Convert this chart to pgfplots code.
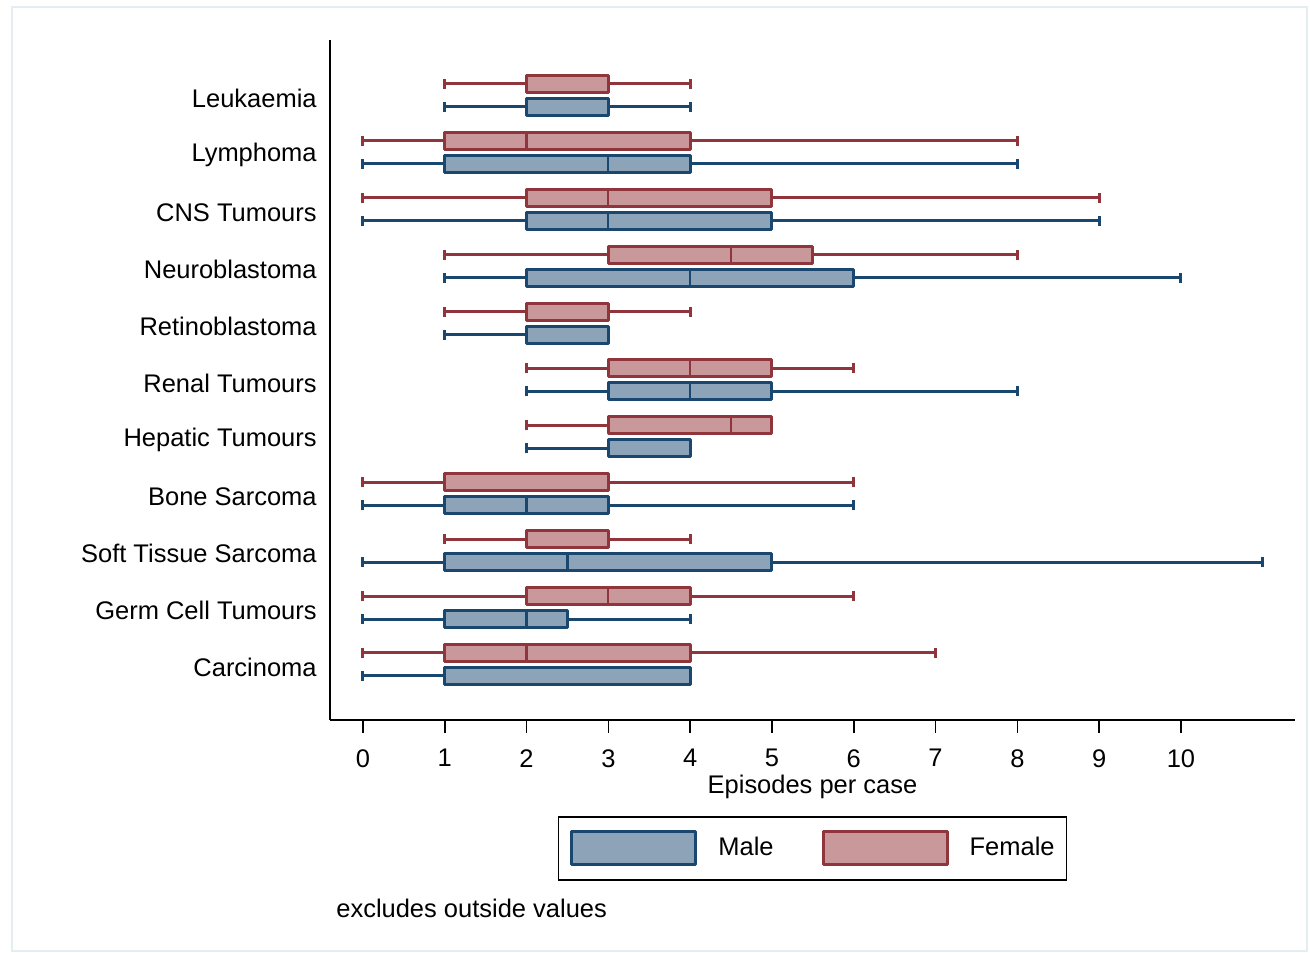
\documentclass[border=0pt]{standalone}
\usepackage{pgfplots}
\pgfplotsset{compat=1.18}
\usepgfplotslibrary{statistics}
\usepackage{fontspec}
\setmainfont{Liberation Sans}
\definecolor{navy}{RGB}{26,71,111}
\definecolor{maroon}{RGB}{144,53,59}
\definecolor{navyfill}{RGB}{141,163,184}
\definecolor{maroonfill}{RGB}{200,152,155}
\definecolor{framec}{RGB}{228,237,240}
\pgfplotsset{
  malebox/.style={draw=navy, fill=navyfill, line width=0.6mm, line join=round, solid, mark=none},
  femalebox/.style={draw=maroon, fill=maroonfill, line width=0.6mm, line join=round, solid, mark=none},
}
% #1 style, #2 position, #3 lower whisker, #4 lower quartile, #5 median, #6 upper quartile, #7 upper whisker
\newcommand{\bx}[7]{\addplot[forget plot, #1, boxplot prepared={draw position=#2, lower whisker=#3, lower quartile=#4, median=#5, upper quartile=#6, upper whisker=#7}] coordinates {};}
\begin{document}
\fontsize{14.5}{17}\selectfont
\begin{tikzpicture}
\path[use as bounding box] (0,0) rectangle (262mm,190.6mm);
\draw[framec, line width=0.4mm] (2.4mm,0.4mm) rectangle (261.4mm,189.2mm);
\begin{axis}[
  at={(66mm,46.6mm)}, anchor=south west,
  scale only axis, width=193mm, height=136mm,
  xmin=-0.403, xmax=11.394, ymin=-720, ymax=-40,
  axis x line*=bottom, axis y line*=left,
  axis line style={-, line width=0.35mm, black},
  xtick={0,1,2,3,4,5,6,7,8,9,10},
  tick align=outside, major tick length=2.6mm,
  xtick style={line width=0.3mm, black},
  ytick style={draw=none},
  ytick={-95.5,-152.4,-209.3,-266.2,-323.1,-380,-436.9,-493.8,-550.7,-607.6,-664.5},
  yticklabels={Leukaemia,Lymphoma,CNS Tumours,Neuroblastoma,Retinoblastoma,Renal Tumours,Hepatic Tumours,Bone Sarcoma,Soft Tissue Sarcoma,Germ Cell Tumours,Carcinoma},
  yticklabel style={inner sep=0pt, anchor=east, yshift=-0.6mm, font=\fontsize{14.5}{17}\selectfont},
  xticklabel style={inner sep=0pt, anchor=north, yshift=-3.2mm, font=\fontsize{14.5}{17}\selectfont},
  /pgf/number format/assume math mode=true,
  xlabel={Episodes per case},
  xlabel style={inner sep=0pt, anchor=north, at={(axis description cs:0.5,0)}, yshift=-11.0mm, font=\fontsize{14.5}{17}\selectfont},
  boxplot/draw direction=x,
  boxplot/box extend=17,
  boxplot/whisker extend=10,
  boxplot/every whisker/.style={line width=0.6mm},
  boxplot/every median/.style={line width=0.45mm},
  legend columns=2,
  legend image code/.code={\draw[#1, line width=0.6mm, line join=round] (0mm,-3.3mm) rectangle (24.8mm,3.3mm);},
  legend style={at={(axis description cs:0.5,-0.1412)}, anchor=north, draw=black, line width=0.3mm,
    inner xsep=2.4mm, inner ysep=2.7mm, font=\fontsize{14.5}{17}\selectfont,
    nodes={inner sep=0pt, anchor=west},
    /tikz/every odd column/.append style={column sep=4.2mm},
    /tikz/every even column/.append style={column sep=9.6mm}},
]
\addlegendimage{draw=navy, fill=navyfill}
\addlegendentry{Male}
\addlegendimage{draw=maroon, fill=maroonfill}
\addlegendentry{Female}
% Leukaemia
\bx{femalebox}{-84}{1}{2}{3}{3}{4}
\bx{malebox}{-107}{1}{2}{2}{3}{4}
% Lymphoma
\bx{femalebox}{-140.9}{0}{1}{2}{4}{8}
\bx{malebox}{-163.9}{0}{1}{3}{4}{8}
% CNS Tumours
\bx{femalebox}{-197.8}{0}{2}{3}{5}{9}
\bx{malebox}{-220.8}{0}{2}{3}{5}{9}
% Neuroblastoma
\bx{femalebox}{-254.7}{1}{3}{4.5}{5.5}{8}
\bx{malebox}{-277.7}{1}{2}{4}{6}{10}
% Retinoblastoma
\bx{femalebox}{-311.6}{1}{2}{3}{3}{4}
\bx{malebox}{-334.6}{1}{2}{2}{3}{3}
% Renal Tumours
\bx{femalebox}{-368.5}{2}{3}{4}{5}{6}
\bx{malebox}{-391.5}{2}{3}{4}{5}{8}
% Hepatic Tumours
\bx{femalebox}{-425.4}{2}{3}{4.5}{5}{5}
\bx{malebox}{-448.4}{2}{3}{4}{4}{4}
% Bone Sarcoma
\bx{femalebox}{-482.3}{0}{1}{1}{3}{6}
\bx{malebox}{-505.3}{0}{1}{2}{3}{6}
% Soft Tissue Sarcoma
\bx{femalebox}{-539.2}{1}{2}{3}{3}{4}
\bx{malebox}{-562.2}{0}{1}{2.5}{5}{11}
% Germ Cell Tumours
\bx{femalebox}{-596.1}{0}{2}{3}{4}{6}
\bx{malebox}{-619.1}{0}{1}{2}{2.5}{4}
% Carcinoma
\bx{femalebox}{-653}{0}{1}{2}{4}{7}
\bx{malebox}{-676}{0}{1}{1}{4}{4}
\end{axis}
\node[anchor=west, inner sep=0pt] at (67.2mm,9mm) {excludes outside values};
\end{tikzpicture}
\end{document}
